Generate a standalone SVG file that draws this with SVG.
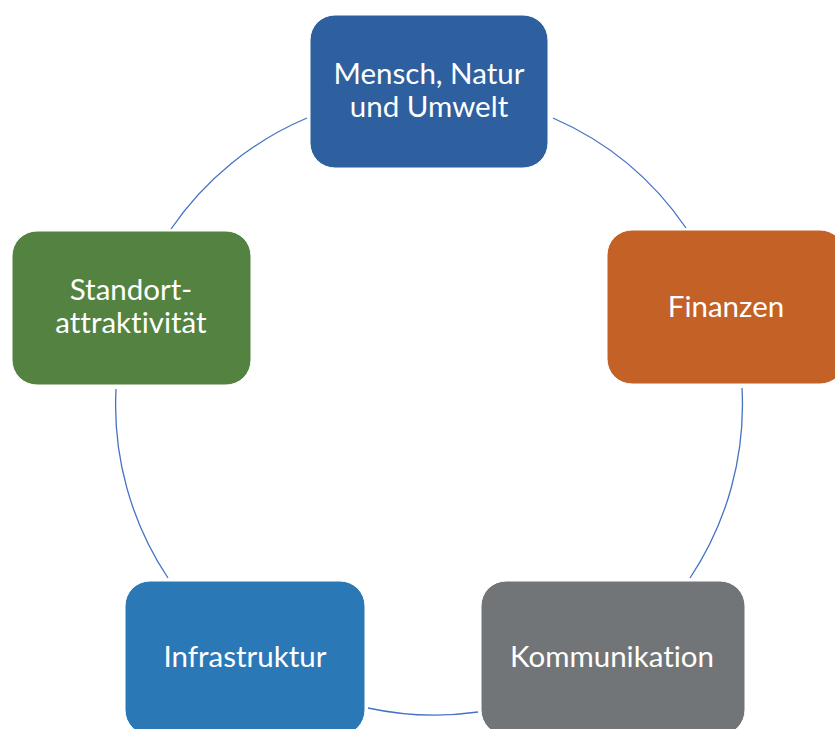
<svg xmlns="http://www.w3.org/2000/svg" width="835" height="729" viewBox="0 0 835 729">
<style>
.box{stroke:#ffffff;stroke-width:1}
.lbl{font-family:Lato,"Open Sans",sans-serif;font-size:29.5px;fill:#ffffff;text-anchor:middle;font-variant-ligatures:none}
.arc{fill:none;stroke:#4472C4;stroke-width:1.3}
</style>
<rect width="835" height="729" fill="#ffffff"/>
<g id="connectors">
<path class="arc" d="M171,229 A312,312 0 0 1 307,118"/>
<path class="arc" d="M553,118 A312,312 0 0 1 686,228"/>
<path class="arc" d="M742,388 A312,312 0 0 1 690,578"/>
<path class="arc" d="M478,712 A312,312 0 0 1 368,708"/>
<path class="arc" d="M168,578 A312,312 0 0 1 116,389"/>
</g>
<g id="node-mensch">
<rect class="box" x="310" y="15" width="238" height="153" rx="25" fill="#2E5F9E"/>
<text class="lbl" x="429" y="84">Mensch, Natur</text>
<text class="lbl" x="429" y="117">und Umwelt</text>
</g>
<g id="node-finanzen">
<rect class="box" x="607" y="230" width="238" height="154" rx="25" fill="#C46127"/>
<text class="lbl" x="726" y="317">Finanzen</text>
</g>
<g id="node-kommunikation">
<rect class="box" x="481" y="581" width="264" height="154" rx="25" fill="#727578"/>
<text class="lbl" x="612" y="667">Kommunikation</text>
</g>
<g id="node-infrastruktur">
<rect class="box" x="125" y="581" width="240" height="154" rx="25" fill="#2B78B7"/>
<text class="lbl" x="245" y="667">Infrastruktur</text>
</g>
<g id="node-standort">
<rect class="box" x="12" y="231" width="239" height="154" rx="25" fill="#548240"/>
<text class="lbl" x="131" y="300">Standort-</text>
<text class="lbl" x="131" y="333">attraktivität</text>
</g>
</svg>
